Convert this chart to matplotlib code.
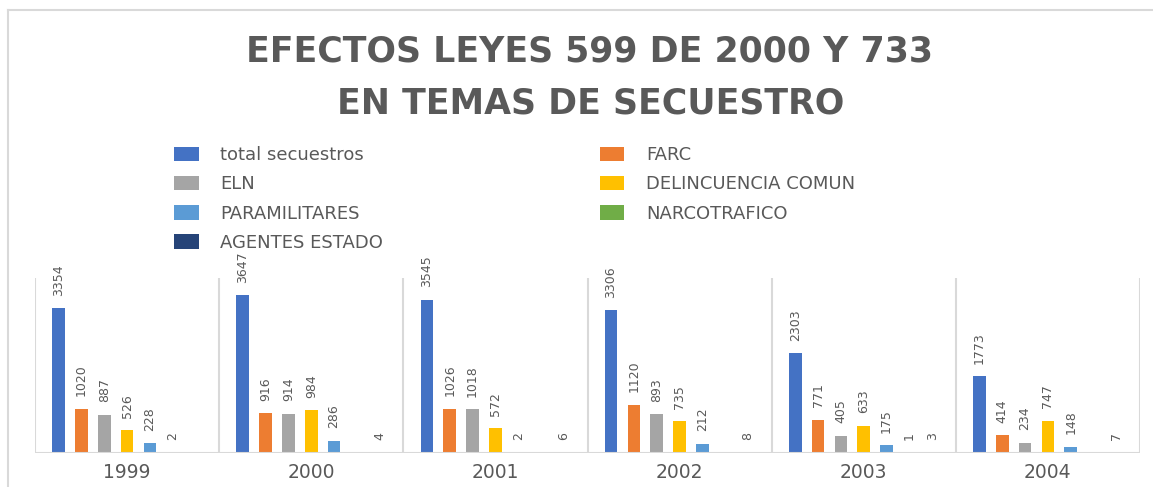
import numpy as np
import matplotlib
matplotlib.use("Agg")
import matplotlib.pyplot as plt
from matplotlib.patches import Patch
from matplotlib.lines import Line2D

years = ["1999", "2000", "2001", "2002", "2003", "2004"]
series_names = ["total secuestros", "FARC", "ELN", "DELINCUENCIA COMUN",
                "PARAMILITARES", "NARCOTRAFICO", "AGENTES ESTADO"]
total = [3354, 3647, 3545, 3306, 2303, 1773]
farc = [1020, 916, 1026, 1120, 771, 414]
eln = [887, 914, 1018, 893, 405, 234]
delincuencia = [526, 984, 572, 735, 633, 747]
paramilitares = [228, 286, 2, 212, 175, 148]
narcotrafico = [2, np.nan, np.nan, np.nan, 1, np.nan]
agentes = [np.nan, 4, 6, 8, 3, 7]
colors = ["#4472C4", "#ED7D31", "#A5A5A5", "#FFC000", "#5B9BD5", "#70AD47", "#264478"]

data = [total, farc, eln, delincuencia, paramilitares, narcotrafico, agentes]

W, H = 1153, 487
fig = plt.figure(figsize=(W / 100, H / 100), dpi=100)
fig.patch.set_facecolor("white")

# outer frame of the chart, only top and left edges are inside the picture
fx, fy = 8 / W, 1 - 10 / H
fig.add_artist(Line2D([fx, 1.0], [fy, fy], transform=fig.transFigure,
                      color="#D9D9D9", linewidth=1.5))
fig.add_artist(Line2D([fx, fx], [0.0, fy], transform=fig.transFigure,
                      color="#D9D9D9", linewidth=1.5))

ax = fig.add_axes([35 / W, (H - 453) / H, (1140 - 35) / W, 175 / H])
x = np.arange(len(years))
slot = 0.124
width = 0.068
grey = "#595959"
for i, (vals, c) in enumerate(zip(data, colors)):
    vals = np.array(vals, dtype=float)
    pos = x + (i - 3) * slot
    ax.bar(pos, np.nan_to_num(vals), width=width, color=c, zorder=2)
    for p, v in zip(pos, vals):
        if np.isnan(v):
            continue
        ax.annotate(f"{int(v)}", (p, v), xytext=(0, 9), textcoords="offset points",
                    rotation=90, ha="center", va="bottom", fontsize=9,
                    family=["Liberation Sans Narrow", "DejaVu Sans"], color=grey,
                    annotation_clip=False)

ax.set_xlim(-0.5, len(years) - 0.5)
ax.set_ylim(0, 4050)
for b in np.arange(-0.5, len(years), 1.0):
    ax.axvline(b, color="#D9D9D9", linewidth=1.5, zorder=1)
ax.axhline(0, color="#D9D9D9", linewidth=1.5, zorder=3)
for s in ax.spines.values():
    s.set_visible(False)
ax.set_yticks([])
ax.set_xticks(x)
ax.set_xticklabels(years, fontsize=13.5, color=grey)
ax.tick_params(axis="x", length=0, pad=7)

fig.text(590 / W, 1 - 52 / H, "EFECTOS LEYES 599 DE 2000 Y 733", ha="center", va="center",
         fontsize=25, fontweight="bold", color=grey)
fig.text(591 / W, 1 - 104 / H, "EN TEMAS DE SECUESTRO", ha="center", va="center",
         fontsize=25, fontweight="bold", color=grey)

order = [0, 2, 4, 6, 1, 3, 5]
handles = [Patch(facecolor=colors[k], label=series_names[k]) for k in order]
leg = fig.legend(handles=handles, ncol=2, loc="upper left",
                 bbox_to_anchor=(158 / W, 1 - 130 / H), frameon=False,
                 fontsize=13, labelcolor=grey, handlelength=1.35, handleheight=0.85,
                 handletextpad=1.2, columnspacing=12.0, labelspacing=0.62)

fig.savefig("out.png", dpi=100)
